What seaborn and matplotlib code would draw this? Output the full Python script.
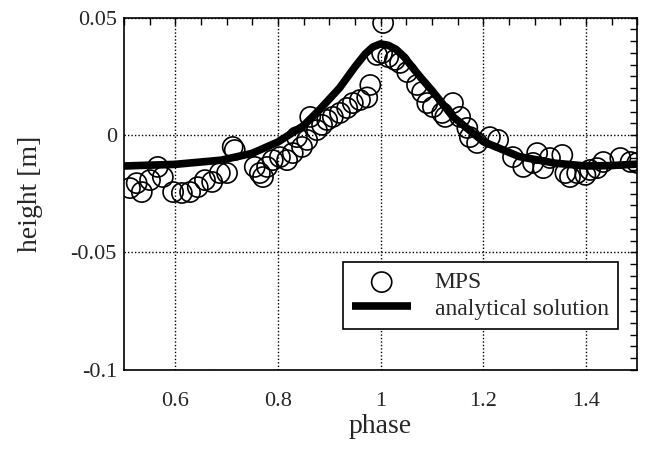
import numpy as np
import pandas as pd
import matplotlib
matplotlib.use("Agg")
import matplotlib.pyplot as plt
import seaborn as sns
from matplotlib.ticker import MultipleLocator, FixedLocator

# MPS results
mps_phase = [0.512, 0.525, 0.535, 0.551, 0.566, 0.576, 0.596, 0.613, 0.629, 0.644,
             0.658, 0.672, 0.687, 0.701, 0.712, 0.716, 0.755, 0.765, 0.771, 0.779,
             0.790, 0.804, 0.818, 0.829, 0.837, 0.847, 0.857, 0.863, 0.876, 0.886,
             0.896, 0.907, 0.921, 0.935, 0.946, 0.960, 0.974, 0.980, 0.993, 1.005,
             1.003, 1.015, 1.028, 1.038, 1.052, 1.071, 1.081, 1.091, 1.102, 1.120,
             1.126, 1.141, 1.155, 1.169, 1.174, 1.188, 1.213, 1.229, 1.258, 1.278,
             1.297, 1.305, 1.317, 1.330, 1.354, 1.360, 1.369, 1.383, 1.399, 1.408,
             1.422, 1.434, 1.467, 1.487, 1.500]
mps_height = [-0.0226, -0.0205, -0.0243, -0.0192, -0.0136, -0.0179, -0.0243, -0.0247, -0.0243, -0.0222,
              -0.0192, -0.0200, -0.0162, -0.0162, -0.0051, -0.0064, -0.0136, -0.0162, -0.0179, -0.0136,
              -0.0107, -0.0094, -0.0107, -0.0077, -0.0009, -0.0051, -0.0021, 0.0077, 0.0021, 0.0043,
              0.0064, 0.0077, 0.0094, 0.0115, 0.0136, 0.0149, 0.0160, 0.0213, 0.0341, 0.0477,
              0.0349, 0.0332, 0.0320, 0.0307, 0.0268, 0.0213, 0.0183, 0.0136, 0.0119, 0.0094,
              0.0077, 0.0136, 0.0077, 0.0030, -0.0009, -0.0034, -0.0009, -0.0021, -0.0094, -0.0136,
              -0.0119, -0.0077, -0.0141, -0.0098, -0.0085, -0.0162, -0.0179, -0.0162, -0.0170, -0.0149,
              -0.0141, -0.0115, -0.0098, -0.0115, -0.0119]

# analytical solution
ana_phase = [0.5, 0.6, 0.69, 0.75, 0.8, 0.85, 0.88, 0.92, 0.95, 0.97, 0.985, 1.0, 1.015,
             1.03, 1.045, 1.065, 1.08, 1.1, 1.14, 1.2, 1.27, 1.34, 1.4, 1.45, 1.5]
ana_height = [-0.0132, -0.0125, -0.0107, -0.0078, -0.0030, 0.0040, 0.0105, 0.0200, 0.0290,
              0.0345, 0.0375, 0.0388, 0.0382, 0.0365, 0.0335, 0.0280, 0.0240, 0.0190, 0.0080,
              -0.0028, -0.0092, -0.0120, -0.0132, -0.0130, -0.0124]

x_ticks = [0.6, 0.8, 1.0, 1.2, 1.4]
x_labels = ["0.6", "0.8", "1", "1.2", "1.4"]
y_ticks = [-0.1, -0.05, 0, 0.05]
y_labels = ["-0.1", "-0.05", "0", "0.05"]

sns.set_style("white")
plt.rcParams["font.family"] = ["Liberation Serif", "DejaVu Serif"]

mps = pd.DataFrame({"phase": mps_phase, "height": mps_height})
ana = pd.DataFrame({"phase": ana_phase, "height": ana_height})

fig = plt.figure(figsize=(6.45, 4.51), dpi=100)
ax = fig.add_axes([0.192, 0.180, 0.796, 0.781])

sns.lineplot(data=ana, x="phase", y="height", ax=ax, color="black", lw=5.5,
             label="analytical solution", zorder=2, solid_joinstyle="round",
             solid_capstyle="butt")
sns.scatterplot(data=mps, x="phase", y="height", ax=ax, marker="o", s=210,
                fc="none", ec="black", linewidth=1.2, label="MPS", zorder=3)

ax.set_xlim(0.5, 1.5)
ax.set_ylim(-0.1, 0.05)
ax.xaxis.set_major_locator(FixedLocator(x_ticks))
ax.set_xticklabels(x_labels)
ax.xaxis.set_minor_locator(MultipleLocator(0.05))
ax.yaxis.set_major_locator(FixedLocator(y_ticks))
ax.set_yticklabels(y_labels)
ax.yaxis.set_minor_locator(MultipleLocator(0.005))
ax.tick_params(which="both", direction="in", top=True, right=True, length=5,
               width=1, color="black", labelsize=16)
ax.tick_params(axis="x", which="major", pad=16)
ax.tick_params(axis="y", which="major", pad=5)
ax.grid(True, which="major", linestyle=(0, (1, 1.5)), color="black", linewidth=1)
for s in ax.spines.values():
    s.set_color("black")
    s.set_linewidth(1.2)

ax.set_xlabel("phase", fontsize=20, labelpad=2)
ax.set_ylabel("height [m]", fontsize=20, labelpad=20)

handles, labels = ax.get_legend_handles_labels()
order = [labels.index("MPS"), labels.index("analytical solution")]
leg = ax.legend([handles[i] for i in order], [labels[i] for i in order],
                loc="lower right", bbox_to_anchor=(0.963, 0.116), borderaxespad=0,
                fontsize=17, frameon=True, fancybox=False, edgecolor="black",
                framealpha=1, handlelength=2.5, handletextpad=1.0, borderpad=0.4,
                labelspacing=0.2)
leg.get_frame().set_linewidth(1.2)

fig.savefig("out.png", dpi=100)
